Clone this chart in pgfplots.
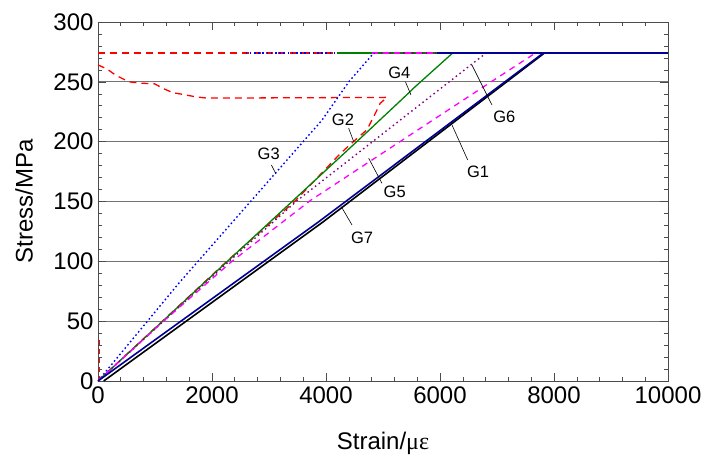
\documentclass[border=0pt]{standalone}
\usepackage{pgfplots}
\pgfplotsset{compat=1.18}
\usepackage{fontspec}
\setmainfont{Liberation Sans}
\newfontfamily\symf{Liberation Serif}
\definecolor{navyline}{RGB}{0,0,150}
\definecolor{greenline}{RGB}{0,128,0}
\definecolor{purpleline}{RGB}{128,0,128}
\definecolor{magline}{RGB}{255,0,255}
\definecolor{redline}{RGB}{255,0,0}
\definecolor{blueline}{RGB}{0,0,255}
\begin{document}
\begin{tikzpicture}
\useasboundingbox (-98pt,-77pt) rectangle (609pt,381pt);
\begin{axis}[
  at={(0,0)}, anchor=south west,
  scale only axis,
  width=570pt, height=359pt,
  xmin=0, xmax=10000, ymin=0, ymax=300,
  xtick={0,2000,...,10000}, ytick={0,50,...,300},
  scaled x ticks=false,
  minor x tick num=4, minor y tick num=4,
  tick align=inside,
  major tick length=8pt, minor tick length=4pt,
  tick style={black!70, line width=0.6pt},
  ymajorgrids,
  grid style={black!55, line width=0.7pt},
  axis line style={black!70, line width=0.8pt},
  /pgf/number format/1000 sep={},
  /pgf/number format/assume math mode=true,
  tick label style={font=\fontsize{24}{24}\selectfont},
  yticklabel style={xshift=-1pt},
  xticklabel style={yshift=-2pt},
  label style={font=\fontsize{24}{24}\selectfont},
  xlabel={Strain/{\symf με}},
  ylabel={Stress/MPa},
  xlabel style={at={(axis description cs:0.5,0)}, anchor=center, yshift=-62pt},
  ylabel style={at={(axis description cs:0,0.5)}, anchor=center, yshift=74pt},
]
% plateaus
\addplot[redline, line width=1.3pt, dash pattern=on 7pt off 5pt] coordinates {(0,274) (10000,274)};
\addplot[blueline, line width=1.4pt, dash pattern=on 1.6pt off 2.6pt] coordinates {(2590,274) (10000,274)};
\addplot[greenline, line width=1.3pt] coordinates {(4190,274) (10000,274)};
\addplot[purpleline, line width=1.3pt, dash pattern=on 1.5pt off 3pt] coordinates {(4800,274) (10000,274)};
\addplot[magline, line width=1.3pt, dash pattern=on 6pt off 5pt] coordinates {(4800,274) (10000,274)};
% short piece on the y axis
\addplot[redline, line width=1.2pt, dash pattern=on 5pt off 4pt] coordinates {(30,0) (30,35)};
% G2
\addplot[redline, line width=1.3pt, dash pattern=on 7pt off 5pt] coordinates {
  (0,0) (2260,100) (3450,150) (4250,190) (4480,200) (4720,210)
  (4890,226) (4950,232) (5070,237) (4000,236.8) (3000,236.6) (1910,236.4)
  (1710,237.5) (1500,239.4) (1310,241) (1165,244) (990,248.4) (780,248.8)
  (540,250) (305,255.7) (160,260.7) (30,263.5) (0,264)};
% G3
\addplot[blueline, line width=1.4pt, dash pattern=on 1.6pt off 2.6pt] coordinates {
  (0,0) (1416,81.6) (3930,218) (4400,250) (4800,272) (4850,274)};
% G4
\addplot[greenline, line width=1.3pt] coordinates {
  (0,0) (2270,100) (4540,200) (5480,242) (5520,244) (6220,274)};
% G6
\addplot[purpleline, line width=1.4pt, dash pattern=on 1.5pt off 3.2pt] coordinates {
  (0,0) (2300,100) (3500,151) (5220,215) (6780,273) (6800,274)};
% G5
\addplot[magline, line width=1.3pt, dash pattern=on 6pt off 5pt] coordinates {
  (0,0) (1150,50) (2350,100) (3730,151) (5297,200) (6897,250) (7640,273) (7680,274)};
% G7
\addplot[black, line width=1.6pt] coordinates {
  (100,0) (3950,133) (7830,274)};
% G1
\addplot[navyline, line width=1.6pt] coordinates {
  (0,0) (3870,133) (7810,274) (10000,274)};
\addplot[navyline, line width=1.6pt] coordinates {(5940,274) (10000,274)};
% labels with leader lines
\begin{scope}[every node/.style={font=\fontsize{16.5}{16.5}\selectfont, inner sep=1pt}]
\node at (axis cs:2995,190) {G3};
\draw[black, line width=0.6pt] (axis cs:3042,180.5) -- (axis cs:3123,173);
\node at (axis cs:4298,218) {G2};
\draw[black, line width=0.6pt] (axis cs:4398,211.2) -- (axis cs:4486,200);
\node at (axis cs:5288,257.6) {G4};
\draw[black, line width=0.6pt] (axis cs:5393,250.1) -- (axis cs:5491,239);
\node at (axis cs:7130,220.4) {G6};
\draw[black, line width=0.6pt] (axis cs:6561,264) -- (axis cs:6912,230.6);
\node at (axis cs:6667,174.9) {G1};
\draw[black, line width=0.6pt] (axis cs:6211,213.9) -- (axis cs:6486,184.7);
\node at (axis cs:5205,158.2) {G5};
\draw[black, line width=0.6pt] (axis cs:4749,186.1) -- (axis cs:4982,165.2);
\node at (axis cs:4632,120) {G7};
\draw[black, line width=0.6pt] (axis cs:4270,145.6) -- (axis cs:4456,130.4);
\end{scope}
\end{axis}
\end{tikzpicture}
\end{document}
